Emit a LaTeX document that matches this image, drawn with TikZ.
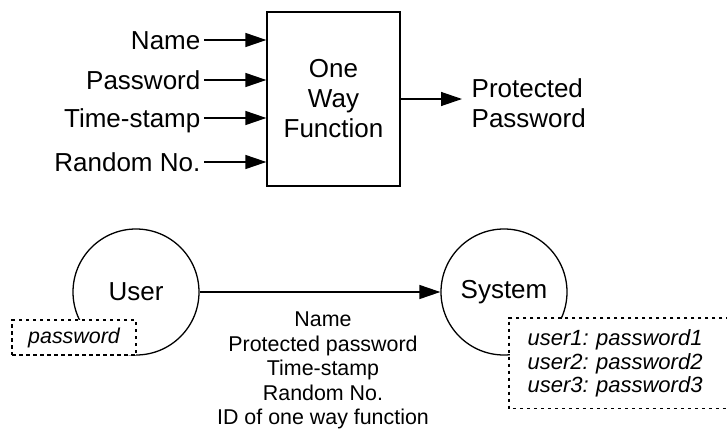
\documentclass[tikz,border=0pt]{standalone}
\usepackage{fontspec}
\setmainfont{Liberation Sans}
\usetikzlibrary{positioning, arrows.meta}
\frenchspacing

\begin{document}
\begin{tikzpicture}[x=1pt, y=-1pt, line width=1.3pt,
		arr/.style={-{Triangle[length=21pt, width=14pt]}},
		big/.style={font=\fontsize{26}{30}\selectfont},
		small/.style={font=\fontsize{21.4}{24.5}\selectfont},
		inlabel/.style={big, anchor=east, inner sep=3pt, text height=18pt, text depth=0pt},
		dashes/.style={dash pattern=on 3.5pt off 3.5pt, line width=1.2pt},
		dbox/.style={draw, dashes, fill=white}]
		\path[use as bounding box, clip] (0,0) rectangle (727,428);
		% one way function
		\node[draw, big, minimum width=133pt, minimum height=174pt, align=center] (owf) at (333.5,99) {One\\Way\\Function};
		\node[inlabel] (name) at (204,40) {Name};
		\node[inlabel] (pass) at (204,80) {Password};
		\node[inlabel] (stamp) at (204,118) {Time-stamp};
		\node[inlabel] (rnd) at (204,162) {Random No.};
		\draw[arr] (name) -- (name -| owf.west);
		\draw[arr] (pass) -- (pass -| owf.west);
		\draw[arr] (stamp) -- (stamp -| owf.west);
		\draw[arr] (rnd) -- (rnd -| owf.west);
		\node[big, anchor=west, align=left, inner sep=3pt] (prot) at (468,103) {Protected\\Password};
		\draw[arr, shorten >=6pt] (owf.east) -- (owf.east -| prot.west);
		% user and system
		\node[draw, circle, big, minimum size=126pt] (user) at (136,292) {User};
		\node[draw, circle, big, minimum size=126pt] (sys) at (504,292) {System};
		\draw[arr] (user) -- (sys);
		\node[small, align=center] (msg) at (323,370.5) {Name\\Protected password\\Time-stamp\\Random No.\\ID of one way function};
		\node[dbox, font=\fontsize{21.4}{24.5}\selectfont\itshape, minimum width=124pt, minimum height=35pt] (upw) at (74,337.5) {password};
		% list runs past the right edge
		\node[fill=white, font=\fontsize{22}{23.5}\selectfont\itshape, anchor=north west, inner xsep=18pt, inner ysep=11pt, text width=260pt, align=left] (spw) at (509,318) {user1: password1\\user2: password2\\user3: password3};
		\draw[dashes] (spw.north east) -- (spw.north west) -- (spw.south west) -- (spw.south east);
	\end{tikzpicture}
\end{document}
